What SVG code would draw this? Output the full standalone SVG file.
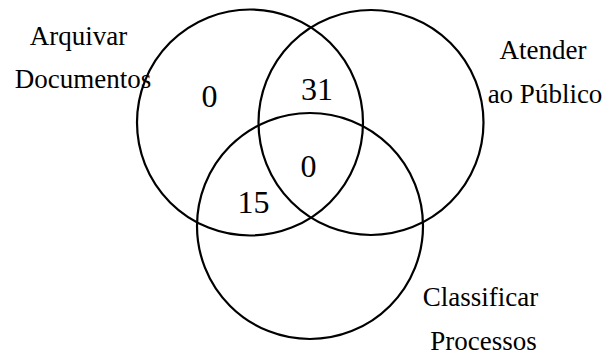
<svg xmlns="http://www.w3.org/2000/svg" width="606" height="355" viewBox="0 0 606 355">
<style>
.set{fill:none;stroke:#000;stroke-width:2.2}
.lbl{font-family:"Liberation Serif","Times New Roman",serif;font-size:27px;fill:#000;text-anchor:middle}
.num{font-family:"Liberation Serif","Times New Roman",serif;font-size:32px;fill:#000;text-anchor:middle}
</style>
<rect width="606" height="355" fill="#fff"/>
<g id="set-arquivar">
<circle class="set" cx="250" cy="122.5" r="113"/>
<text class="lbl" x="78.5" y="45">Arquivar</text>
<text class="lbl" x="83" y="88">Documentos</text>
</g>
<g id="set-atender">
<circle class="set" cx="371" cy="122.5" r="112.5"/>
<text class="lbl" x="543" y="59">Atender</text>
<text class="lbl" x="545" y="103">ao Público</text>
</g>
<g id="set-classificar">
<circle class="set" cx="310" cy="226" r="113"/>
<text class="lbl" x="480.5" y="306">Classificar</text>
<text class="lbl" x="483.5" y="350">Processos</text>
</g>
<g id="counts">
<text class="num" x="209.5" y="107">0</text>
<text class="num" x="317" y="100">31</text>
<text class="num" x="308.5" y="177">0</text>
<text class="num" x="253.5" y="213">15</text>
</g>
</svg>
